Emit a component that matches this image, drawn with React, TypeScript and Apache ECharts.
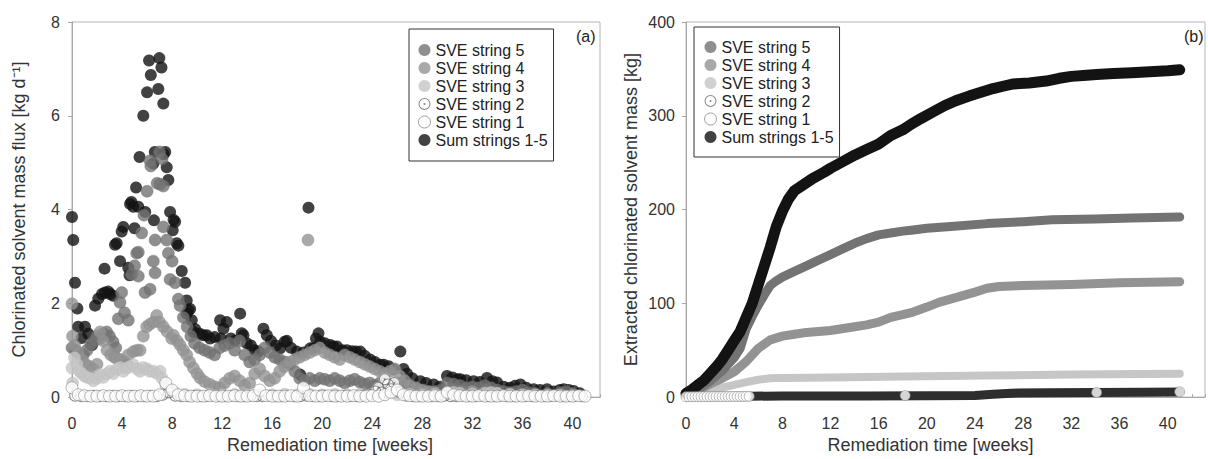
import React, { useEffect, useRef } from "react";
import * as echarts from "echarts";

const FONT = "'Liberation Sans', Arial, Helvetica, sans-serif";

const seriesNames = ["SVE string 5", "SVE string 4", "SVE string 3", "SVE string 2", "SVE string 1", "Sum strings 1-5"];
const xTitle = "Remediation time [weeks]";
const yTitleA = "Chlorinated solvent mass flux [kg d\u207B\u00B9]";
const yTitleB = "Extracted chlorinated solvent mass [kg]";

// ---- panel (a): mass flux [kg/d] vs week, pairs [week, value]
const fluxSum = [[0,3.84],[0.1,3.35],[0.24,2.44],[0.43,1.89],[0.5,1.5],[0.77,1.26],[1.04,1.5],[1.3,1.35],[1.6,1.11],[1.84,1.95],[2.1,2.1],[2.4,2.2],[2.6,2.74],[2.64,2.23],[2.9,2.25],[3.04,2.2],[3.3,2.16],[3.44,3.25],[3.57,3.28],[3.84,2.9],[3.97,3.53],[4.1,3.63],[4.37,0.69],[4.5,2.76],[4.6,2.6],[4.64,4.12],[4.75,4.16],[4.9,4.06],[5.0,3.6],[5.12,4.47],[5.3,4.06],[5.4,5.12],[5.7,6.0],[5.85,3.95],[6.0,6.5],[6.16,7.18],[6.3,6.87],[6.5,4.98],[6.55,3.77],[6.62,5.23],[6.9,6.57],[6.98,7.23],[7.15,7.03],[7.3,6.26],[7.32,5.18],[7.45,5.23],[7.57,4.9],[7.7,4.63],[7.84,3.95],[8.05,3.56],[8.12,3.78],[8.24,3.74],[8.37,3.28],[8.5,3.23],[8.77,2.69],[9.04,2.44],[9.17,2.06],[9.17,1.78],[9.3,1.85],[9.44,1.88],[9.57,1.64],[9.7,1.39],[9.84,1.45],[10.2,1.35],[10.5,1.32],[10.77,1.32],[11.04,1.25],[11.4,1.28],[11.84,1.64],[11.9,1.25],[12.1,1.46],[12.37,1.6],[12.7,1.25],[13.0,1.2],[13.44,1.78],[13.57,1.36],[13.7,1.32],[13.97,1.15],[14.3,1.1],[14.6,1.0],[14.9,0.97],[15.3,1.46],[15.57,1.32],[15.9,1.2],[16.3,1.1],[16.64,1.04],[17.0,1.18],[17.17,1.2],[17.5,1.05],[17.97,0.97],[18.24,0.48],[18.5,0.95],[18.9,4.04],[19.04,1.04],[19.3,1.04],[19.5,1.25],[19.7,1.36],[19.84,1.18],[20.2,1.15],[20.64,1.11],[20.9,1.08],[21.17,1.08],[21.6,1.0],[21.97,1.0],[22.4,0.98],[22.7,0.97],[23.04,0.97],[23.4,0.88],[23.84,0.8],[24.2,0.75],[24.64,0.69],[24.9,0.69],[25.3,0.66],[25.7,0.6],[26.24,0.97],[26.5,0.6],[26.77,0.5],[27.2,0.4],[27.84,0.34],[28.3,0.3],[28.9,0.27],[29.4,0.22],[29.97,0.45],[30.4,0.42],[30.8,0.38],[31.04,0.38],[31.5,0.36],[32.1,0.34],[32.6,0.32],[33.17,0.41],[33.6,0.34],[33.97,0.31],[34.5,0.22],[35.0,0.2],[35.4,0.24],[35.84,0.27],[36.3,0.2],[36.9,0.17],[37.4,0.15],[37.97,0.17],[38.5,0.12],[39.0,0.15],[39.3,0.17],[39.7,0.15],[40.1,0.13],[40.6,0.08]];

const fluxS5 = [[0,1.05],[0.3,1.0],[0.6,0.92],[0.9,0.9],[1.2,1.0],[1.5,1.12],[1.8,1.2],[2.0,1.3],[2.24,1.25],[2.5,1.35],[2.77,1.39],[3.0,1.3],[3.28,1.18],[3.5,1.05],[3.7,1.67],[3.84,2.02],[3.97,2.23],[4.2,1.8],[4.5,1.64],[4.77,2.62],[5.0,2.8],[5.17,3.07],[5.3,3.09],[5.3,2.58],[5.57,3.5],[5.75,3.88],[5.84,2.23],[6.0,4.39],[6.24,5.04],[6.24,2.3],[6.3,4.93],[6.5,2.9],[6.64,3.35],[6.64,2.65],[6.8,4.56],[7.0,5.23],[7.04,4.54],[7.2,5.08],[7.3,4.5],[7.3,3.63],[7.57,3.35],[7.7,3.07],[7.84,2.51],[8.0,2.9],[8.24,2.44],[8.5,2.09],[8.64,1.95],[8.9,1.7],[9.2,1.5],[9.5,1.3],[9.8,1.15],[10.2,1.05],[10.6,1.0],[11.0,0.95],[11.4,0.9],[11.8,1.05],[12.2,1.1],[12.6,1.15],[13.0,1.0],[13.4,1.2],[13.8,0.9],[14.2,0.75],[14.6,0.8],[15.0,0.9],[15.4,1.05],[15.8,0.95],[16.2,0.85],[16.6,0.8],[17.0,0.75],[17.4,0.7],[17.8,0.55],[18.2,0.4],[18.6,0.35],[19.0,0.4],[19.4,0.35],[19.8,0.4],[20.2,0.38],[20.6,0.35],[21.0,0.4],[21.4,0.35],[21.8,0.3],[22.2,0.35],[22.6,0.38],[23.0,0.32],[23.4,0.28],[23.8,0.3],[24.2,0.25],[24.6,0.3],[25.0,0.28],[25.4,0.25],[25.8,0.3],[26.2,0.3],[26.6,0.25],[27.0,0.2],[27.5,0.15],[28,0.12],[28.5,0.1],[29,0.12],[29.5,0.15],[30,0.3],[30.5,0.28],[31,0.25],[31.5,0.2],[32,0.22],[32.5,0.2],[33,0.25],[33.5,0.2],[34,0.15],[34.5,0.12],[35,0.1],[35.5,0.12],[36,0.15],[36.5,0.1],[37,0.08],[38,0.08],[39,0.1],[39.5,0.12],[40,0.08]];

const fluxS4 = [[0,1.99],[0.04,1.3],[0.2,1.1],[0.5,0.95],[0.8,0.8],[1.1,0.7],[1.4,0.65],[1.7,0.6],[2.0,0.7],[2.24,1.39],[2.5,1.2],[2.8,1.0],[3.1,0.9],[3.4,0.85],[3.57,0.83],[3.9,0.8],[4.2,0.75],[4.5,0.9],[4.9,0.97],[5.2,1.0],[5.44,1.0],[5.7,1.3],[5.97,1.5],[6.2,1.55],[6.5,1.6],[6.77,1.74],[7.0,1.6],[7.3,1.5],[7.6,1.4],[7.97,1.25],[8.1,1.32],[8.4,1.2],[8.64,1.11],[8.9,1.0],[9.17,0.9],[9.4,0.75],[9.7,0.62],[10.0,0.5],[10.24,0.41],[10.6,0.33],[11.04,0.27],[11.4,0.22],[11.84,0.2],[12.2,0.3],[12.6,0.4],[13.0,0.45],[13.4,0.35],[13.8,0.25],[14.2,0.3],[14.6,0.5],[15.0,0.6],[15.4,0.45],[15.8,0.35],[16.2,0.4],[16.6,0.55],[17.0,0.65],[17.4,0.75],[17.8,0.8],[18.2,0.85],[18.6,0.9],[18.86,3.35],[19.0,0.95],[19.4,1.0],[19.8,1.05],[20.2,0.95],[20.6,0.9],[21.0,0.85],[21.4,0.8],[21.8,0.9],[22.2,0.85],[22.6,0.8],[23.0,0.75],[23.4,0.7],[23.8,0.65],[24.2,0.6],[24.6,0.55],[25.0,0.5],[25.4,0.55],[25.8,0.6],[26.2,0.45],[26.6,0.35],[27.0,0.25],[27.5,0.2],[28,0.15],[28.5,0.12],[29,0.1],[30,0.12],[31,0.1],[32,0.12],[33,0.1],[34,0.08],[35,0.06],[36,0.05],[37,0.06],[38,0.05],[39,0.05],[40,0.04]];

const fluxS3 = [[0,0.62],[0.05,0.3],[0.2,0.84],[0.4,0.7],[0.6,0.55],[0.8,0.5],[1.0,0.45],[1.2,0.42],[1.44,0.41],[1.7,0.35],[2.0,0.4],[2.24,0.48],[2.5,0.42],[2.8,0.5],[3.04,0.55],[3.3,0.5],[3.6,0.6],[3.84,0.63],[4.1,0.55],[4.4,0.62],[4.6,0.65],[4.9,0.69],[5.2,0.6],[5.44,0.55],[5.7,0.63],[6.0,0.6],[6.2,0.55],[6.5,0.55],[6.8,0.5],[7.04,0.55],[7.2,0.4],[7.5,0.25],[7.8,0.15],[8.2,0.1],[9,0.06],[10,0.05],[11,0.06],[12,0.05],[13,0.06],[14,0.05],[15,0.06],[16,0.05],[17,0.06],[18,0.05],[19,0.06],[20,0.05],[21,0.06],[22,0.05],[23,0.06],[24,0.05],[25,0.06],[26,0.05],[27,0.06],[28,0.05],[29,0.06],[30,0.08],[30.5,0.1],[31,0.08],[32,0.07],[33,0.08],[33.5,0.1],[34,0.08],[35,0.06],[36,0.05],[37,0.04],[38,0.04],[39,0.04],[40,0.03]];

const fluxS2 = [[0.25,0.03],[0.75,0.02],[1.25,0.02],[1.75,0.03],[2.25,0.02],[2.75,0.02],[3.25,0.03],[3.75,0.02],[4.25,0.02],[4.75,0.03],[5.25,0.02],[5.75,0.02],[6.25,0.03],[6.75,0.02],[7.25,0.05],[7.75,0.1],[8.25,0.03],[8.75,0.02],[9.25,0.02],[9.75,0.03],[10.25,0.02],[10.75,0.02],[11.25,0.03],[11.75,0.02],[12.25,0.02],[12.75,0.03],[13.25,0.02],[13.75,0.02],[14.25,0.03],[14.75,0.02],[15.25,0.02],[15.75,0.03],[16.25,0.02],[16.75,0.02],[17.25,0.03],[17.75,0.02],[18.25,0.02],[18.75,0.03],[19.25,0.02],[19.75,0.02],[20.25,0.03],[20.75,0.02],[21.25,0.02],[21.75,0.03],[22.25,0.02],[22.75,0.02],[23.25,0.03],[23.75,0.05],[24.25,0.12],[24.5,0.2],[24.75,0.1],[25.0,0.38],[25.25,0.27],[25.5,0.17],[25.75,0.3],[26.25,0.1],[26.75,0.03],[27.25,0.02],[27.75,0.02],[28.25,0.03],[28.75,0.02],[29.25,0.02],[29.75,0.03],[30.25,0.02],[30.75,0.02],[31.25,0.03],[31.75,0.02],[32.25,0.02],[32.75,0.03],[33.25,0.02],[33.75,0.02],[34.25,0.03],[34.75,0.02],[35.25,0.02],[35.75,0.03],[36.25,0.02],[36.75,0.02],[37.25,0.03],[37.75,0.02],[38.25,0.02],[38.75,0.03],[39.25,0.02],[39.75,0.02],[40.25,0.03],[40.75,0.02]];

const fluxS1 = [[0,0.2],[0.5,0.05],[1,0.03],[1.5,0.02],[2,0.02],[2.5,0.03],[3,0.02],[3.5,0.02],[4,0.03],[4.5,0.02],[5,0.02],[5.5,0.03],[6,0.02],[6.5,0.02],[7,0.05],[7.5,0.3],[8,0.15],[8.5,0.05],[9,0.03],[9.5,0.02],[10,0.02],[10.5,0.02],[11,0.03],[11.5,0.02],[12,0.02],[12.5,0.02],[13,0.03],[13.5,0.02],[14,0.02],[14.5,0.03],[15,0.15],[15.5,0.03],[16,0.02],[16.5,0.02],[17,0.02],[17.5,0.03],[18,0.02],[18.5,0.2],[19,0.03],[19.5,0.02],[20,0.02],[20.5,0.03],[21,0.02],[21.5,0.02],[22,0.02],[22.5,0.03],[23,0.02],[23.5,0.02],[24,0.03],[24.5,0.02],[25,0.05],[25.5,0.1],[26,0.15],[26.5,0.05],[27,0.03],[27.5,0.02],[28,0.02],[28.5,0.02],[29,0.03],[29.5,0.02],[30,0.1],[30.5,0.05],[31,0.03],[31.5,0.02],[32,0.02],[32.5,0.03],[33,0.02],[33.5,0.02],[34,0.02],[34.5,0.03],[35,0.02],[35.5,0.02],[36,0.02],[36.5,0.03],[37,0.02],[37.5,0.02],[38,0.02],[38.5,0.03],[39,0.02],[39.5,0.02],[40,0.02],[40.5,0.03],[41,0.02]];

// ---- panel (b): cumulative extracted mass [kg], pairs [week, value]
const massSum = [[0,4],[0.5,8],[1,13],[1.5,18],[2,25],[2.5,32],[3,40],[3.5,50],[4,60],[4.5,70],[5,85],[5.5,100],[6,120],[6.5,140],[7,160],[7.5,182],[8,198],[8.5,211],[9,220],[9.7,226],[10.5,233],[11.5,240],[12,244],[13,251],[14,258],[15,264],[16,270],[17,279],[18,285],[18.7,291],[19.5,297],[20.5,304],[21.5,311],[22.4,316],[23.5,321],[24.5,325],[25.5,329],[26.5,332],[27.2,334],[28.5,335],[29.9,337],[31,340],[32,342],[33,343],[34.1,344],[35.5,345],[37,346],[38.5,347],[40,348],[41,349]];
const massS5 = [[0,3],[1,8],[2,17],[3,28],[4,42],[4.5,52],[5,73],[5.5,86],[6,98],[6.5,109],[7,119],[7.5,124],[8,128],[9,134],[10,140],[11,146],[12,152],[13,158],[14,164],[15,169],[16,173],[17,175],[18,177],[18.7,178],[20,180],[22,182],[25,185],[28,187],[30.4,189],[34,190],[37,191],[41,192]];
const massS4 = [[0,3],[1,7],[2,14],[3,20],[4,27],[5,38],[6,52],[7,61],[8,65],[9,67],[10,69],[12,71],[14,75],[15,77],[16,80],[17,85],[18,88],[18.7,90],[20,96],[21,101],[22.4,106],[24,112],[25,116],[26,118],[28,119],[32,120],[36,122],[41,123]];
const massS3 = [[0,2],[1,5],[2,8],[3,10],[4,13],[5,16],[6,18.5],[7,20],[8,20.5],[12,21],[18,22],[25,23],[32,24],[41,25]];
const massS2 = [[5.3,1.0],[8,1.1],[10,1.2],[15,1.3],[20,1.5],[24,1.7],[25.5,3.0],[27,4.2],[30,4.7],[34,5.0],[38,5.3],[41,5.5]];
const massS1 = [[0,0.4],[0.25,0.4],[0.5,0.4],[0.75,0.5],[1,0.5],[1.25,0.5],[1.5,0.5],[1.75,0.5],[2,0.5],[2.25,0.6],[2.5,0.6],[2.75,0.6],[3,0.6],[3.25,0.6],[3.5,0.6],[3.75,0.7],[4,0.7],[4.25,0.7],[4.5,0.7],[4.75,0.7],[5,0.8],[5.25,0.8],[18.2,1.6],[34.1,5.0],[41,5.6]];

const C5 = "#737373";
const C4 = "#939393";
const C3 = "#c6c6c6";
const CSUM = "#131313";
const CRING = "#6a6a6a";
const RING_DOT = "path://M0,10A10,10,0,1,0,20,10A10,10,0,1,0,0,10ZM1.7,10A8.3,8.3,0,1,1,18.3,10A8.3,8.3,0,1,1,1.7,10ZM8.3,10A1.7,1.7,0,1,0,11.7,10A1.7,1.7,0,1,0,8.3,10Z";

function legendItems() {
  return [
    { name: seriesNames[0], icon: "circle", itemStyle: { color: C5, borderWidth: 0 } },
    { name: seriesNames[1], icon: "circle", itemStyle: { color: C4, borderWidth: 0 } },
    { name: seriesNames[2], icon: "circle", itemStyle: { color: C3, borderWidth: 0 } },
    { name: seriesNames[3], icon: RING_DOT, itemStyle: { color: CRING, borderWidth: 0 } },
    { name: seriesNames[4], icon: "circle", itemStyle: { color: "#ffffff", borderColor: "#8a8a8a", borderWidth: 1 } },
    { name: seriesNames[5], icon: "circle", itemStyle: { color: CSUM, borderWidth: 0 } },
  ];
}

function makeLegend(left: number, top: number, pad: number[]) {
  return {
    left, top, orient: "vertical", backgroundColor: "#ffffff", borderColor: "#333333", borderWidth: 1,
    padding: pad, itemGap: 2, itemWidth: 12, itemHeight: 12, selectedMode: false,
    textStyle: { fontSize: 16, color: "#222222", fontFamily: FONT },
    data: legendItems(),
  };
}

function xAxisCfg(gridIndex: number, max: number, pad: number) {
  return {
    gridIndex, type: "value", min: 0, max, interval: 4,
    name: xTitle, nameLocation: "middle", nameGap: 33,
    nameTextStyle: { fontSize: 18, color: "#333333", fontFamily: FONT, padding: [0, pad, 0, 0] },
    axisLine: { show: true, onZero: false, lineStyle: { color: "#a8a8a8" } },
    axisTick: { show: true, inside: true, length: 3, lineStyle: { color: "#a8a8a8" } },
    minorTick: { show: gridIndex === 1, splitNumber: 2, length: 3, lineStyle: { color: "#a8a8a8" } },
    axisLabel: { fontSize: 16, color: "#333333", margin: 18, fontFamily: FONT,
      formatter: (v: number) => (Math.abs(v % 4) < 1e-6 ? String(v) : "") },
    splitLine: { show: false },
  };
}

function yAxisCfg(gridIndex: number, max: number, interval: number, name: string, gap: number, margin: number) {
  return {
    gridIndex, type: "value", min: 0, max, interval,
    name, nameLocation: "middle", nameGap: gap,
    nameTextStyle: { fontSize: 18, color: "#333333", fontFamily: FONT },
    axisLine: { show: true, lineStyle: { color: "#a8a8a8" } },
    axisTick: { show: true, length: 4, lineStyle: { color: "#a8a8a8" } },
    axisLabel: { fontSize: 16, color: "#333333", margin, fontFamily: FONT },
    splitLine: { show: false },
  };
}

function scatterA(name: string, data: number[][], itemStyle: any, symbol = "circle", z = 2) {
  return { name, type: "scatter", xAxisIndex: 0, yAxisIndex: 0, data, symbol, symbolSize: 12, symbolKeepAspect: true, itemStyle, z };
}

function lineB(name: string, data: number[][], color: string, width: number) {
  return {
    name, type: "line", xAxisIndex: 1, yAxisIndex: 1, data, showSymbol: false, symbol: "none",
    lineStyle: { width, color, cap: "round", join: "round" }, itemStyle: { color }, z: 2,
  };
}

export default function App() {
  const ref = useRef<HTMLDivElement>(null);
  useEffect(() => {
    if (!ref.current) return;
    const chart = echarts.init(ref.current, null, { renderer: "svg" });
    chart.setOption({
      animation: false,
      backgroundColor: "#ffffff",
      textStyle: { fontFamily: FONT },
      grid: [
        { left: 72, top: 22, width: 528, height: 381, show: true, borderColor: "#b4b4b4", borderWidth: 1 },
        { left: 686, top: 22, width: 540, height: 381, show: true, borderColor: "#b4b4b4", borderWidth: 1 },
      ],
      xAxis: [xAxisCfg(0, 42.2, 12), xAxisCfg(1, 43.1, 30)],
      yAxis: [yAxisCfg(0, 8, 2, yTitleA, 44, 12), yAxisCfg(1, 400, 100, yTitleB, 46, 11)],
      legend: [makeLegend(409, 29, [13, 6, 13, 9]), makeLegend(694, 27, [12, 6, 12, 10])],
      graphic: [
        { type: "text", left: 576, top: 28, style: { text: "(a)", fontSize: 16, fill: "#222222", fontFamily: FONT } },
        { type: "text", left: 1184, top: 28, style: { text: "(b)", fontSize: 16, fill: "#222222", fontFamily: FONT } },
      ],
      series: [
        scatterA(seriesNames[5], fluxSum, { color: CSUM }),
        scatterA(seriesNames[0], fluxS5, { color: C5, borderColor: "#6a6a6a", borderWidth: 0.5 }),
        scatterA(seriesNames[1], fluxS4, { color: C4, borderColor: "#888888", borderWidth: 0.5 }),
        scatterA(seriesNames[2], fluxS3, { color: C3, borderColor: "#b8b8b8", borderWidth: 0.5 }),
        scatterA(seriesNames[3], fluxS2, { color: "#ffffff" }),
        scatterA(seriesNames[3], fluxS2, { color: CRING }, RING_DOT),
        scatterA(seriesNames[4], fluxS1, { color: "#ffffff", borderColor: "#8a8a8a", borderWidth: 0.8 }),
        lineB(seriesNames[2], massS3, C3, 8),
        lineB(seriesNames[1], massS4, C4, 9),
        lineB(seriesNames[0], massS5, C5, 9),
        lineB(seriesNames[5], massSum, CSUM, 11),
        lineB(seriesNames[3], massS2, "#2e2e2e", 9),
        {
          name: seriesNames[4], type: "scatter", xAxisIndex: 1, yAxisIndex: 1, data: massS1, z: 3,
          symbol: "circle", symbolSize: 10, itemStyle: { color: "#ffffff", borderColor: "#8a8a8a", borderWidth: 0.8 },
        },
      ],
    });
    return () => chart.dispose();
  }, []);
  return <div ref={ref} style={{ position: "fixed", left: 0, top: 0, width: 1208, height: 459 }} />;
}
